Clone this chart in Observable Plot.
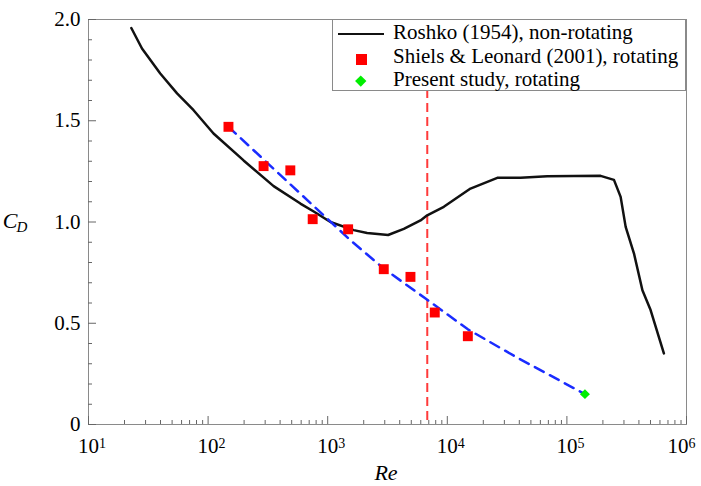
<!DOCTYPE html>
<html><head><meta charset="utf-8">
<script src="https://cdn.jsdelivr.net/npm/d3@7"></script>
<script src="https://cdn.jsdelivr.net/npm/@observablehq/plot@0.6"></script>
<style>
body{margin:0;background:#fff;}
#wrap{position:relative;width:701px;height:486px;font-family:'Liberation Serif','Times New Roman',serif;color:#000;}
#legend{position:absolute;left:332px;top:19px;width:354px;height:72px;border:1px solid #8a8a8a;background:#fff;box-sizing:border-box;}
#legend .t{position:absolute;left:60px;font-size:21px;line-height:21px;white-space:nowrap;}
#legend .ln{position:absolute;left:5px;top:12.5px;width:46px;height:2.5px;background:#111;}
#legend .sq{position:absolute;left:22.5px;top:33.5px;width:11px;height:11px;background:#ff0000;}
#legend .dm{position:absolute;left:24.2px;top:57.2px;width:7.5px;height:7.5px;background:#00ee00;transform:rotate(45deg);}
</style></head><body>
<div id="wrap"><div id="chart"></div>
<div id="legend">
  <div class="ln"></div><div class="t" style="top:2px">Roshko (1954), non-rotating</div>
  <div class="sq"></div><div class="t" style="top:26px">Shiels &amp; Leonard (2001), rotating</div>
  <div class="dm"></div><div class="t" style="top:49px">Present study, rotating</div>
</div></div>
<script>
// Roshko (1954), non-rotating
const roshkoRe = [22.8, 28, 39.8, 55, 75.6, 111, 198, 353, 591, 764, 1054, 1650, 2136, 3200, 4330, 5970, 6790, 9350, 15630, 26180, 41000, 68550, 191400, 247400, 281400, 310000, 364000, 428000, 501000, 647000];
const roshkoCd = [1.958, 1.857, 1.733, 1.635, 1.552, 1.437, 1.304, 1.177, 1.091, 1.052, 1.0, 0.96, 0.946, 0.936, 0.966, 1.008, 1.033, 1.075, 1.165, 1.218, 1.218, 1.226, 1.228, 1.208, 1.124, 0.976, 0.844, 0.663, 0.565, 0.351];
// Shiels & Leonard (2001), rotating
const shielsRe = [148, 291, 487, 749, 1482, 2943, 4920, 7856, 14850];
const shielsCd = [1.47, 1.276, 1.255, 1.014, 0.964, 0.767, 0.729, 0.553, 0.436];
// Present study, rotating
const presentRe = [141500];
const presentCd = [0.150];
// Fit curve (blue dashed)
const fitRe = [148, 989, 1550, 2945, 6580, 14860, 38450, 141500];
const fitCd = [1.47, 1.017, 0.91, 0.770, 0.622, 0.470, 0.330, 0.150];
// Vertical dashed line
const criticalRe = [6800];
// Ticks
const xMajor = [10, 100, 1000, 10000, 100000, 1000000];
const xMinor = [];
for (const dec of [10, 100, 1000, 10000, 100000]) for (let m = 2; m <= 9; m++) xMinor.push(dec * m);
const yMajor = [0, 0.5, 1.0, 1.5, 2.0];
const yMinor = [0.1,0.2,0.3,0.4,0.6,0.7,0.8,0.9,1.1,1.2,1.3,1.4,1.6,1.7,1.8,1.9];

const zip = (a, b) => a.map((v, i) => ({x: v, y: b[i]}));

const tickColor = "#666";
const plot = Plot.plot({
  width: 701, height: 486,
  marginLeft: 88, marginRight: 15, marginTop: 19, marginBottom: 62,
  style: {fontFamily: "'Liberation Serif','Times New Roman',serif", fontSize: "21px", color: "#000", background: "#fff"},
  x: {type: "log", domain: [10, 1e6], label: null},
  y: {domain: [0, 2], label: null},
  marks: [
    Plot.ruleX(criticalRe, {x: d => d, stroke: "#ff3a3a", strokeWidth: 2, strokeDasharray: "9,5"}),
    Plot.line(zip(roshkoRe, roshkoCd), {x: "x", y: "y", stroke: "#111", strokeWidth: 2.5}),
    Plot.line(zip(fitRe, fitCd), {x: "x", y: "y", stroke: "#1a2cff", strokeWidth: 2.5, strokeDasharray: "10,7"}),
    Plot.dot(zip(shielsRe, shielsCd), {x: "x", y: "y", symbol: "square", r: 5.6, fill: "#ff0000"}),
    Plot.dot(zip(presentRe, presentCd), {x: "x", y: "y", symbol: "diamond2", r: 4.5, fill: "#00ee00"}),
    Plot.frame({stroke: "#8a8a8a", strokeWidth: 1}),
    Plot.axisX({ticks: xMajor, tickSize: -8, tickFormat: () => "", stroke: tickColor}),
    Plot.axisX({ticks: xMinor, tickSize: -4, tickFormat: () => "", stroke: tickColor}),
    Plot.axisX({ticks: xMajor, tickSize: 0, tickPadding: 14, tickFormat: d => String(Math.round(Math.log10(d))), fontSize: 21}),
    Plot.axisY({ticks: yMajor, tickSize: -8, tickFormat: () => "", stroke: tickColor}),
    Plot.axisY({ticks: yMinor, tickSize: -4, tickFormat: () => "", stroke: tickColor}),
    Plot.axisY({ticks: yMajor, tickSize: 0, tickPadding: 8, tickFormat: d => d === 0 ? "0" : d.toFixed(1), fontSize: 21})
  ]
});
document.getElementById("chart").appendChild(plot);

// Superscript exponents on x tick labels
const svg = d3.select(plot);
svg.selectAll('g[aria-label="x-axis tick label"] text').each(function() {
  const t = d3.select(this);
  const e = this.textContent;
  if (!e) return;
  t.text(null).attr("text-anchor", "start");
  t.append("tspan").attr("dx", e === "6" ? -19 : -10.5).text("10");
  t.append("tspan").attr("dy", "-0.42em").attr("font-size", 14).text(e);
});

// Axis titles
svg.append("text").attr("x", 386).attr("y", 480).attr("text-anchor", "middle")
  .attr("font-size", 22).attr("font-style", "italic").attr("fill", "#000").text("Re");
const cd = svg.append("text").attr("x", 15).attr("y", 228).attr("font-style", "italic").attr("fill", "#000");
cd.append("tspan").attr("font-size", 22).text("C");
cd.append("tspan").attr("font-size", 15).attr("dy", 4).attr("dx", -1).text("D");
</script>
</body></html>
